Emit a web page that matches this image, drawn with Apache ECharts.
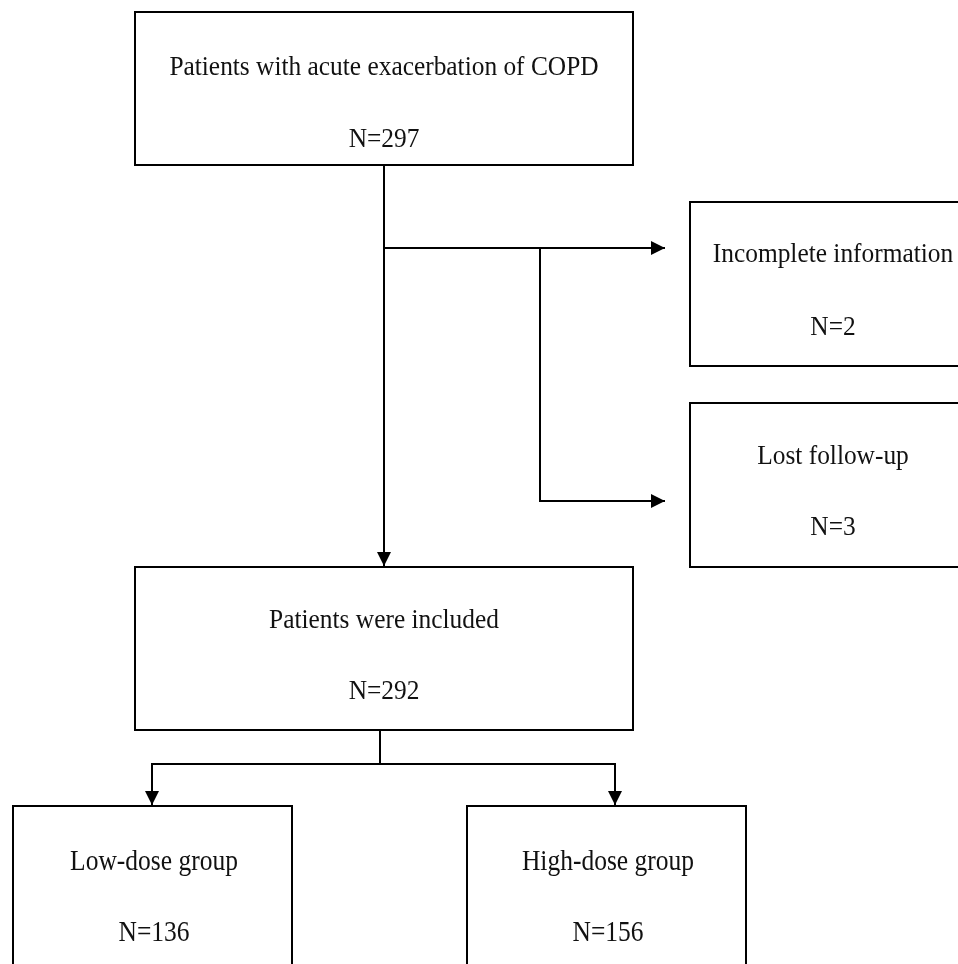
<!DOCTYPE html>
<html>
<head>
<meta charset="utf-8">
<script src="https://cdn.jsdelivr.net/npm/echarts@6/dist/echarts.min.js"></script>
<style>html,body{margin:0;padding:0;background:#fff}#c{width:958px;height:964px}</style>
</head>
<body>
<div id="c"></div>
<script>
// ---- data ----
const boxLabels = ['Patients with acute exacerbation of COPD', 'Incomplete information', 'Lost follow-up', 'Patients were included', 'Low-dose group', 'High-dose group'];
const boxCounts = [297, 2, 3, 292, 136, 156];

// ---- layout (positions in page-pixel units on a hidden 958x964 value grid) ----
const boxRects = [
  [135, 12, 633, 165],
  [690, 202, 980, 366],
  [690, 403, 980, 567],
  [135, 567, 633, 730],
  [13, 806, 292, 990],
  [467, 806, 746, 990]
];
const rowY = [[68, 140], [255, 328], [457, 528], [621, 692], [862, 933], [862, 933]];
const textX = [384, 833, 833, 384, 154, 608];
const fontStyle = [
  {size: 27, sx: 0.94}, {size: 27, sx: 0.94}, {size: 27, sx: 0.94},
  {size: 27, sx: 0.94}, {size: 30, sx: 0.85}, {size: 30, sx: 0.85}
];
// connectors: polyline points; arrow = true means arrowhead at last point
const connectors = [
  {pts: [[384, 165], [384, 566]], arrow: true},
  {pts: [[384, 248], [665, 248]], arrow: true},
  {pts: [[540, 248], [540, 501], [665, 501]], arrow: true},
  {pts: [[380, 730], [380, 764]], arrow: false},
  {pts: [[152, 804], [152, 764], [615, 764], [615, 804]], arrow: false},
  {pts: [[152, 764], [152, 805]], arrow: true},
  {pts: [[615, 764], [615, 805]], arrow: true}
];

const chart = echarts.init(document.getElementById('c'));

const boxData = boxLabels.map((l, i) => [i, boxCounts[i]]);

chart.setOption({
  animation: false,
  backgroundColor: '#fff',
  grid: {left: 0, right: 0, top: 0, bottom: 0},
  xAxis: {type: 'value', min: 0, max: 958, show: false},
  yAxis: {type: 'value', min: 0, max: 964, inverse: true, show: false},
  series: [
    {
      type: 'custom',
      clip: false,
      data: connectors.map((c, i) => [i]),
      renderItem: function (params, api) {
        const c = connectors[api.value(0)];
        const pts = c.pts.map(p => api.coord(p));
        const children = [{
          type: 'polyline',
          shape: {points: pts},
          style: {stroke: '#000', lineWidth: 2, fill: null}
        }];
        if (c.arrow) {
          const a = pts[pts.length - 1], b = pts[pts.length - 2];
          const dx = a[0] - b[0], dy = a[1] - b[1];
          const len = Math.sqrt(dx * dx + dy * dy);
          const ux = dx / len, uy = dy / len;
          const L = 14, W = 7;
          const bx = a[0] - ux * L, by = a[1] - uy * L;
          children.push({
            type: 'polygon',
            shape: {points: [a, [bx - uy * W, by + ux * W], [bx + uy * W, by - ux * W]]},
            style: {fill: '#000'}
          });
        }
        return {type: 'group', children: children};
      }
    },
    {
      type: 'custom',
      clip: false,
      data: boxData,
      renderItem: function (params, api) {
        const i = api.value(0);
        const r = boxRects[i];
        const p0 = api.coord([r[0], r[1]]);
        const p1 = api.coord([r[2], r[3]]);
        const f = fontStyle[i];
        const cx = api.coord([textX[i], 0])[0];
        const y1 = api.coord([0, rowY[i][0]])[1];
        const y2 = api.coord([0, rowY[i][1]])[1];
        const mk = (txt, y) => ({
          type: 'text', x: cx, y: y, scaleX: f.sx,
          style: {
            x: 0, y: 0, text: txt, align: 'center', verticalAlign: 'middle',
            fontFamily: '"Liberation Serif", "Times New Roman", serif',
            fontSize: f.size, fill: '#111'
          }
        });
        return {
          type: 'group',
          children: [
            {type: 'rect', shape: {x: p0[0], y: p0[1], width: p1[0] - p0[0], height: p1[1] - p0[1]},
             style: {fill: '#fff', stroke: '#000', lineWidth: 2}},
            mk(boxLabels[i], y1),
            mk('N=' + api.value(1), y2)
          ]
        };
      }
    }
  ]
});
</script>
</body>
</html>
